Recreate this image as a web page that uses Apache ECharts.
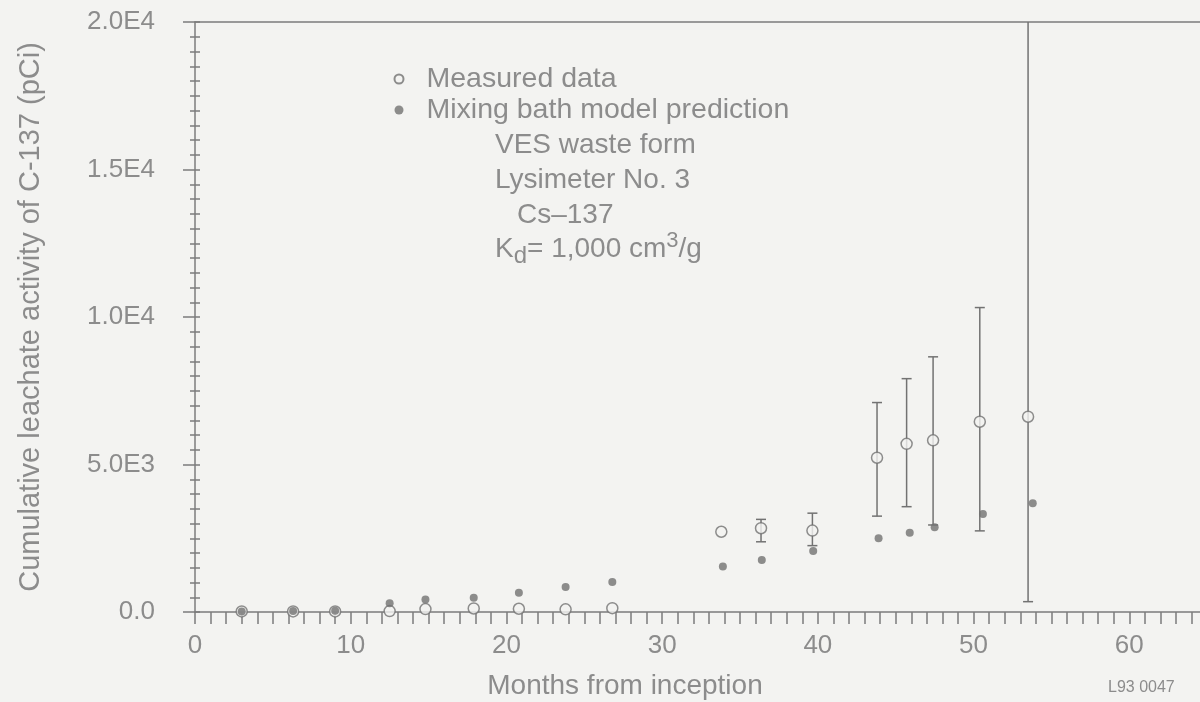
<!DOCTYPE html>
<html>
<head>
<meta charset="utf-8">
<script src="https://cdn.jsdelivr.net/npm/echarts@6/dist/echarts.min.js"></script>
<style>
  html, body { margin: 0; padding: 0; background: #f3f3f1; }
  #chart { width: 1200px; height: 702px; }
</style>
</head>
<body>
<div id="chart"></div>
<script>
// Cumulative Cs-137 leachate activity, lysimeter no. 3 (VES waste form)
const measuredMonths = [3, 6.3, 9, 12.5, 14.8, 17.9, 20.8, 23.8, 26.8, 33.8, 36.35, 39.65, 43.8, 45.7, 47.4, 50.4, 53.5];
const measuredValues = [20, 20, 20, 30, 100, 120, 110, 90, 130, 2720, 2840, 2760, 5230, 5700, 5820, 6450, 6620];
const measuredLow    = [null, null, null, null, null, null, null, null, null, null, 2380, 2250, 3250, 3570, 2950, 2750, 350];
const measuredHigh   = [null, null, null, null, null, null, null, null, null, null, 3140, 3350, 7100, 7910, 8650, 10320, 21000];

const modelMonths = [3, 6.3, 9, 12.5, 14.8, 17.9, 20.8, 23.8, 26.8, 33.9, 36.4, 39.7, 43.9, 45.9, 47.5, 50.6, 53.8];
const modelValues = [20, 30, 40, 300, 420, 480, 650, 850, 1020, 1540, 1760, 2070, 2500, 2690, 2870, 3320, 3690];

const yTickLabels = ['0.0', '5.0E3', '1.0E4', '1.5E4', '2.0E4'];
const noteLines = ['VES waste form', 'Lysimeter No. 3', 'Cs\u2013137'];

const FONT = '"Liberation Sans", Arial, sans-serif';
const TEXT = '#8c8c8c';
const LINE = '#7c7c7c';
const MARK = '#727272';
const BG = '#f3f3f1';

const measuredData = measuredMonths.map((m, i) => [m, measuredValues[i]]);
const modelData = modelMonths.map((m, i) => [m, modelValues[i]]);
const errorData = measuredMonths
  .map((m, i) => [m, measuredLow[i], measuredHigh[i]])
  .filter(d => d[1] !== null);

const chart = echarts.init(document.getElementById('chart'));

chart.setOption({
  backgroundColor: BG,
  animation: false,
  textStyle: { fontFamily: FONT },
  grid: { left: 195, right: -85, top: 22, bottom: 90, containLabel: false, outerBoundsMode: 'none' },
  legend: {
    orient: 'vertical',
    left: 388.5,
    top: 59,
    itemGap: 1,
    itemWidth: 9,
    itemHeight: 9,
    selectedMode: false,
    textStyle: { fontSize: 28.5, color: TEXT, fontFamily: FONT, lineHeight: 30, padding: [0, 0, 0, 18] },
    data: [
      { name: 'Measured data', icon: 'circle' },
      { name: 'Mixing bath model prediction', icon: 'circle' }
    ]
  },
  xAxis: [
    {
      type: 'value',
      min: 0,
      max: 70,
      interval: 10,
      position: 'bottom',
      name: 'Months from inception',
      nameLocation: 'middle',
      nameGap: 60,
      nameTextStyle: { fontSize: 28, color: TEXT, fontFamily: FONT, padding: [0, 230, 0, 0] },
      axisLine: { show: true, onZero: false, lineStyle: { color: LINE, width: 1.5 } },
      axisTick: { show: true, inside: false, length: 12, lineStyle: { color: LINE, width: 1.5 } },
      minorTick: { show: true, splitNumber: 10, length: 12, lineStyle: { color: LINE, width: 1.5 } },
      axisLabel: { fontSize: 26, color: TEXT, margin: 21, fontFamily: FONT },
      splitLine: { show: false }
    },
    {
      type: 'value',
      min: 0,
      max: 70,
      position: 'top',
      axisLine: { show: true, onZero: false, lineStyle: { color: LINE, width: 1.5 } },
      axisTick: { show: false },
      axisLabel: { show: false },
      splitLine: { show: false }
    }
  ],
  yAxis: [
    {
      type: 'value',
      min: 0,
      max: 20000,
      interval: 5000,
      position: 'left',
      name: 'Cumulative leachate activity of C-137 (pCi)',
      nameLocation: 'middle',
      nameGap: 150,
      nameTextStyle: { fontSize: 29, color: TEXT, fontFamily: FONT },
      axisLine: { show: true, onZero: false, lineStyle: { color: LINE, width: 1.5 } },
      axisTick: { show: true, inside: false, length: 12, lineStyle: { color: LINE, width: 1.5 } },
      minorTick: { show: true, splitNumber: 10, length: 5, lineStyle: { color: LINE, width: 1.5 } },
      axisLabel: {
        fontSize: 26, color: TEXT, margin: 40, fontFamily: FONT,
        formatter: v => yTickLabels[Math.round(v / 5000)]
      },
      splitLine: { show: false }
    },
    {
      type: 'value',
      min: 0,
      max: 20000,
      interval: 500,
      position: 'left',
      offset: 0,
      axisLine: { show: false },
      axisTick: { show: true, inside: true, length: 5, lineStyle: { color: LINE, width: 1.5 } },
      axisLabel: { show: false },
      splitLine: { show: false }
    }
  ],
  series: [
    {
      name: 'error',
      type: 'custom',
      clip: true,
      z: 2,
      data: errorData,
      renderItem: (params, api) => {
        const x = api.value(0);
        const lo = api.coord([x, api.value(1)]);
        const hi = api.coord([x, api.value(2)]);
        const half = 5;
        const style = { stroke: MARK, lineWidth: 1.5 };
        return {
          type: 'group',
          children: [
            { type: 'line', shape: { x1: lo[0], y1: lo[1], x2: hi[0], y2: hi[1] }, style },
            { type: 'line', shape: { x1: lo[0] - half, y1: lo[1], x2: lo[0] + half, y2: lo[1] }, style },
            { type: 'line', shape: { x1: hi[0] - half, y1: hi[1], x2: hi[0] + half, y2: hi[1] }, style }
          ]
        };
      }
    },
    {
      name: 'Measured data',
      type: 'scatter',
      z: 3,
      symbol: 'circle',
      symbolSize: 11,
      itemStyle: { color: BG, borderColor: MARK, borderWidth: 1.5 },
      data: measuredData
    },
    {
      name: 'Mixing bath model prediction',
      type: 'scatter',
      z: 4,
      symbol: 'circle',
      symbolSize: 8,
      itemStyle: { color: MARK, borderColor: MARK, borderWidth: 0 },
      data: modelData
    }
  ],
  graphic: [
    {
      type: 'text', left: 495, top: 131, z: 10,
      style: { text: noteLines[0], font: '28px ' + FONT, fill: TEXT }
    },
    {
      type: 'text', left: 495, top: 166, z: 10,
      style: { text: noteLines[1], font: '28px ' + FONT, fill: TEXT }
    },
    {
      type: 'text', left: 517, top: 201, z: 10,
      style: { text: noteLines[2], font: '28px ' + FONT, fill: TEXT }
    },
    {
      type: 'text', left: 495, top: 230, z: 10,
      style: {
        text: '{n|K}{sub|d}{n|= 1,000 cm}{sup|3}{n|/g}',
        fill: TEXT,
        rich: {
          n: { fontSize: 28, fontFamily: FONT, color: TEXT, lineHeight: 38, verticalAlign: 'middle' },
          sub: { fontSize: 24, fontFamily: FONT, color: TEXT, verticalAlign: 'bottom' },
          sup: { fontSize: 22, fontFamily: FONT, color: TEXT, verticalAlign: 'top' }
        }
      }
    },
    {
      type: 'text', left: 1108, top: 680, z: 10,
      style: { text: 'L93 0047', font: '16px ' + FONT, fill: TEXT }
    }
  ]
});
</script>
</body>
</html>
